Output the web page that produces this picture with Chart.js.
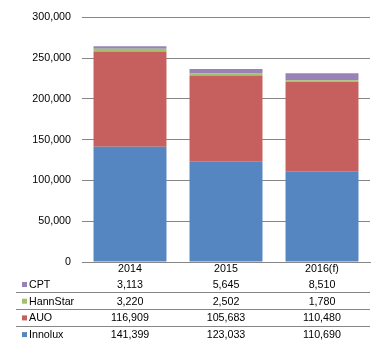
<!DOCTYPE html>
<html>
<head>
<meta charset="utf-8">
<script src="https://cdn.jsdelivr.net/npm/chart.js@4"></script>
<style>
  body { margin: 0; background: #fff; }
</style>
</head>
<body>
<canvas id="chartBar" width="385" height="350"></canvas>
<script>
const years = ["2014", "2015", "2016(f)"]
const innolux = [141399, 123033, 110690]
const auo = [116909, 105683, 110480]
const hannstar = [3220, 2502, 1780]
const cpt = [3113, 5645, 8510]
const yTicks = [0, 50000, 100000, 150000, 200000, 250000, 300000]

const fontFamily = "'Liberation Sans', Arial, sans-serif"
const gridColor = "#868686"

// data table under the chart, rows in the same order as the original (top row = top of stack)
const dataTable = {
    id: "dataTable",
    afterDraw(chart) {
        const ctx = chart.ctx
        const xScale = chart.scales.x
        const rows = chart.data.datasets.slice().reverse()
        ctx.save()
        ctx.font = "10.7px " + fontFamily
        ctx.textBaseline = "middle"

        ctx.strokeStyle = gridColor
        ctx.lineWidth = 1
        ;[292.5, 309.5, 326.5].forEach(function (y) {
            ctx.beginPath()
            ctx.moveTo(16, y)
            ctx.lineTo(chart.chartArea.right, y)
            ctx.stroke()
        })

        rows.forEach(function (ds, i) {
            const y = 285 + i * 16.7
            ctx.fillStyle = ds.backgroundColor
            ctx.fillRect(22, y - 3, 5, 5)
            ctx.fillStyle = "#000"
            ctx.textAlign = "left"
            ctx.fillText(ds.label, 29, y)
            ctx.textAlign = "center"
            ds.data.forEach(function (v, j) {
                ctx.fillText(v.toLocaleString("en-US"), xScale.getPixelForValue(j), y)
            })
        })
        ctx.restore()
    }
}

const configBar = {
    type: "bar",
    data: {
        labels: years,
        datasets: [
            { label: "Innolux", data: innolux, backgroundColor: "#5586C1" },
            { label: "AUO", data: auo, backgroundColor: "#C6605E" },
            { label: "HannStar", data: hannstar, backgroundColor: "#A2C16A" },
            { label: "CPT", data: cpt, backgroundColor: "#9882B6" }
        ]
    },
    options: {
        responsive: false,
        animation: false,
        barPercentage: 0.76,
        categoryPercentage: 1,
        layout: {
            padding: { top: 14, right: 15, left: 0, bottom: 0 }
        },
        plugins: {
            legend: { display: false },
            tooltip: { enabled: false }
        },
        scales: {
            x: {
                stacked: true,
                grid: { display: false, drawTicks: false },
                border: { color: gridColor, width: 1 },
                ticks: {
                    color: "#000",
                    padding: 1,
                    font: { family: fontFamily, size: 10.7 }
                },
                afterFit: function (scale) { scale.height = 88 }
            },
            y: {
                stacked: true,
                min: 0,
                max: 300000,
                afterBuildTicks: function (scale) {
                    scale.ticks = yTicks.map(function (v) { return { value: v } })
                },
                grid: { color: gridColor, drawTicks: false },
                border: { display: false },
                ticks: {
                    color: "#000",
                    padding: 11,
                    font: { family: fontFamily, size: 10.7 },
                    callback: function (v) { return v.toLocaleString("en-US") }
                },
                afterFit: function (scale) { scale.width = 82 }
            }
        }
    },
    plugins: [dataTable]
}

var chartBar = new Chart(document.getElementById("chartBar"), configBar)
</script>
</body>
</html>
